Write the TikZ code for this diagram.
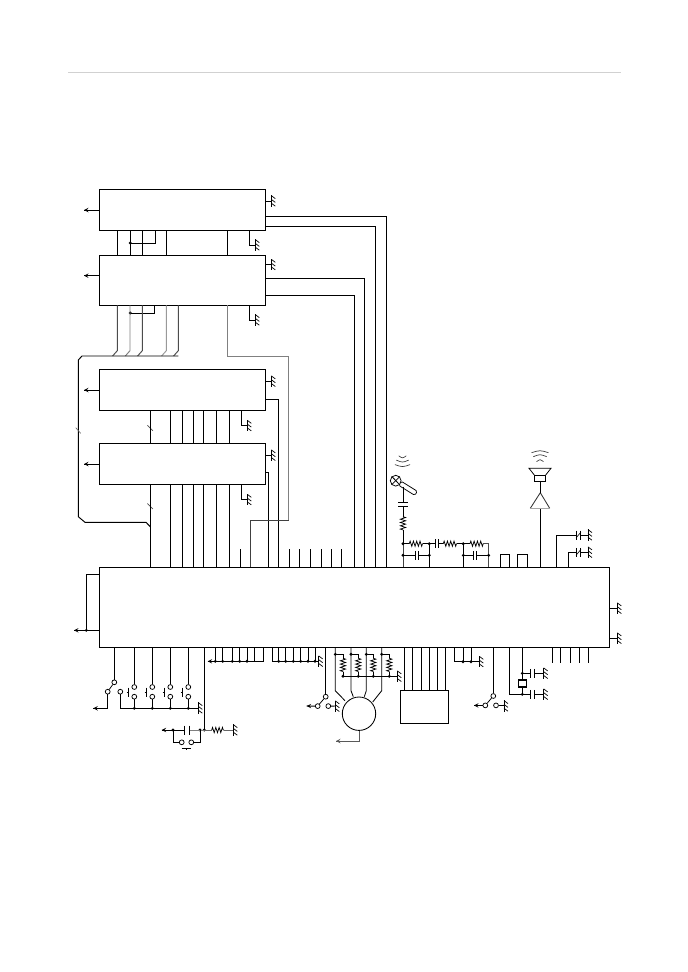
\documentclass[tikz,border=0pt]{standalone}
\usetikzlibrary{calc,decorations.pathmorphing,decorations.markings}
\tikzset{->/.style = {decoration={markings, mark=at position 1 with {\arrow[scale=1]{stealth}}}, postaction={decorate}}}
\tikzset{chip/.style = {draw, anchor=north west, inner sep=0pt, outer sep=0pt},
         contact/.style = {draw, circle, inner sep=0pt, minimum size=4.8pt, fill=white, line width=.75pt},
         rez/.style = {decorate, decoration={zigzag, segment length=3.3pt, amplitude=2.6pt}},
         wave/.style = {line width=.65pt, black!80},
         busgray/.style = {black!50, line width=1.3pt},
         thingray/.style = {black!75, line width=.85pt}}
\newcommand{\gnd}[2]{\draw (#1,#2-5.7) -- (#1,#2+5.7);
  \foreach \t in {-5.4,-1.6,2.2} \draw [line width=.7pt] (#1,#2+\t) -- ++(4,3);}
\newcommand{\jdot}[2]{\fill (#1,#2) circle (1.6);}
\newcommand{\swt}[5]{\node [contact] (#1-t) at (#2,#3) {};
  \node [contact] (#1-l) at (#4,#3+9.4) {};
  \node [contact] (#1-r) at (#5,#3+9.4) {};
  \draw [line width=.75pt] (#1-l) -- (#1-t);}
\newcommand{\capv}[2]{\draw (#1,#2-4.5) -- (#1,#2+4.5); \draw (#1+3.8,#2-4.5) -- (#1+3.8,#2+4.5);}
\begin{document}
\begin{tikzpicture}[x=1pt,y=-1pt,line width=.95pt]
\useasboundingbox (0,0) rectangle (688,972);
\draw [black!18, line width=1pt] (68,72.3) -- (621,72.3);

\node [chip, minimum width=166.4pt, minimum height=41pt] (icA) at (99.3,189.3) {};
\node [chip, minimum width=166.4pt, minimum height=50pt] (icB) at (99.3,255.3) {};
\node [chip, minimum width=166.4pt, minimum height=41pt] (icC) at (99.3,369.3) {};
\node [chip, minimum width=166.4pt, minimum height=41pt] (icD) at (99.3,443.3) {};
\node [chip, minimum width=510pt, minimum height=80pt] (mcu) at (99.3,567.3) {};
\node [chip, minimum width=48pt, minimum height=33pt] (icE) at (400.3,690.3) {};

\draw [->] (icA.west |- 0,210) -- (84,210);
\draw [->] (icB.west |- 0,275.7) -- (84,275.7);
\draw [->] (icC.west |- 0,390) -- (84,390);
\draw [->] (icD.west |- 0,464) -- (84,464);

% between the upper chips
\foreach \x in {117.3,130.3,142.3,166.3,227.3}
  \draw (icA.south -| \x,0) -- (icB.north -| \x,0);
\draw (icA.south -| 155.7,0) |- (130.3,243);
\jdot{130.3}{243}
\draw (icB.south -| 154.3,0) |- (130.3,313);
\jdot{130.3}{313}

% grounds
\foreach \y in {201,264.7,381.3,455.3} {
  \draw (265.7,\y) -- (271.3,\y);
  \gnd{271.3}{\y}
}
\draw (icA.south -| 249.7,0) |- (255.3,245);
\gnd{255.3}{245}
\draw (icB.south -| 249.7,0) |- (255.3,320);
\gnd{255.3}{320}
\draw (icC.south -| 241.7,0) |- (247.3,425.7);
\gnd{247.3}{425.7}
\draw (icD.south -| 241.7,0) |- (247.3,499.7);
\gnd{247.3}{499.7}

% long wires into the main chip
\draw (icA.east |- 0,216.3) -| (mcu.north -| 386.7,0);
\draw (icA.east |- 0,226.3) -| (mcu.north -| 375.3,0);
\draw (icB.east |- 0,278.3) -| (mcu.north -| 364.3,0);
\draw (icB.east |- 0,295.3) -| (mcu.north -| 354.7,0);
\draw (icC.east |- 0,399.3) -| (mcu.north -| 278.7,0);
\draw (icD.east |- 0,472.3) -| (mcu.north -| 268.3,0);

% bus on the left
\foreach \x/\c in {117.3/70,130/50,142.3/70,166.3/40,178.3/70}
  \draw [black!\c, line width=.95pt] (icB.south -| \x,0) -- (\x,350.7) -- (\x-4.7,356);
\draw (178.3,356) -- (82,356) -- (78.3,360) -- (78.3,516.7) -- (85,522.3) -- (146,522.3) -- (150.3,526.7);
\draw [black!60, line width=.6pt] (75.7,427.7) -- (80.7,433.3);
\foreach \y in {425.3,503.5}
  \draw [black!70, line width=.7pt] (147.3,\y) -- (152.9,\y+5.4);

% gray return
\draw [busgray] (icB.south -| 227.3,0) |- (288.7,356.7) -- (288.7,520.3) -- (250.3,520.3);
\draw [thingray] (288.7,520.3) -- (250.3,520.3) -- (mcu.north -| 250.3,0);

% chip C to D to main
\foreach \x in {150.3,170.3,182.3,193.7,203.7,216.3,229.3} {
  \draw (icC.south -| \x,0) -- (icD.north -| \x,0);
  \draw (icD.south -| \x,0) -- (mcu.north -| \x,0);
}
\foreach \x in {240.3,289.3,299.3,310.3,321.3,331.3,341.7}
  \draw (\x,549.3) -- (mcu.north -| \x,0);

% mic
\node [draw, rounded corners=1.5pt, minimum width=19pt, minimum height=4.8pt, inner sep=0pt, rotate=-32, line width=.75pt] (grip) at (408,488.3) {};
\node [draw, circle, minimum size=10.8pt, inner sep=0pt, fill=white, line width=.75pt] (mic) at (395.7,480.7) {};
\draw [line width=.6pt] (mic.north east) -- (mic.south west) (mic.north west) -- (mic.south east);
\draw [line width=.6pt] (393,477.5) -- (398.5,483.5);
\foreach \y/\w in {457/3.8,461.3/6.2,465.8/7.6}
  \draw [wave] (402.5-\w,\y-1.2) .. controls (402.5,\y+1.4) .. (402.5+\w,\y-1.2);
\coordinate (micout) at (403,486.7);
\draw (micout) -- (403,502.3);
\draw (398.3,502.3) -- (408.3,502.3) (398.3,506) -- (408.3,506);
\draw (403,506) -- (403,516.7);
\draw [rez, line width=.75pt] (403,516.7) -- (403,530);
\draw (403,530) -- (403,543.7);
\draw [thingray] (403,543.7) -- (mcu.north -| 403,0);
\jdot{403}{543.7}
\jdot{403}{555.3}
% filter
\draw (403,543.7) -- (409.3,543.7);
\draw [rez, line width=.75pt] (409.3,543.7) -- (422.7,543.7);
\draw (422.7,543.7) -- (435,543.7);
\capv{435}{543.5}
\draw (438.8,543.7) -- (443.3,543.7);
\draw [rez, line width=.75pt] (443.3,543.7) -- (456.7,543.7);
\draw (456.7,543.7) -- (470,543.7);
\draw [rez, line width=.75pt] (470,543.7) -- (483.3,543.7);
\draw [black!70] (483.3,543.7) -- (488.7,543.7) -- (mcu.north -| 488.7,0);
\draw (403,555.3) -- (415,555.3);
\capv{415}{555.3}
\draw (418.8,555.3) -- (429.3,555.3);
\draw (429.3,543.7) -- (mcu.north -| 429.3,0);
\jdot{429.3}{543.7}
\jdot{429.3}{555.3}
\draw (463.3,543.7) -- (mcu.north -| 463.3,0);
\jdot{463.3}{543.7}
\jdot{463.3}{555.3}
\draw (463.3,555.3) -- (473,555.3);
\capv{473}{555.3}
\draw (476.8,555.3) -- (488.7,555.3);
\jdot{488.7}{555.3}
% open loops on top
\draw (mcu.north -| 500.3,0) |- (509.7,554.3) -- (mcu.north -| 509.7,0);
\draw (mcu.north -| 517.3,0) |- (527.3,554.3) -- (mcu.north -| 527.3,0);

% speaker
\draw (mcu.north -| 540.3,0) -- (540.3,508.3);
\draw [black!80, line width=.85pt] (530.3,508.3) -- (540.3,492.7) -- (549.7,508.3);
\draw [black!35, line width=1.2pt] (530.3,508.3) -- (549.7,508.3);
\draw (540.3,492.7) -- (540.3,481.3);
\draw (534.3,475) rectangle (545.7,481.3);
\draw [line width=.75pt] (534.3,475) -- (529,468.3) -- (551,468.3) -- (545.7,475);
\foreach \y/\w in {451.5/8.5,455.5/6.7,460.5/3.5}
  \draw [wave] (540-\w,\y+1.2) .. controls (540,\y-1.4) .. (540+\w,\y+1.2);

% caps on the right of the top edge
\draw (mcu.north -| 556.3,0) |- (576.7,535);
\draw (mcu.north -| 568.3,0) |- (576.7,552.3);
\foreach \y in {535,552.3} {
  \capv{576.7}{\y}
  \draw [line width=.6pt] (576,\y+3) -- (581,\y-3);
  \draw (580.5,\y) -- (588,\y);
  \gnd{588}{\y}
}
\foreach \y in {608.3,638.3} {
  \draw (609.3,\y) -- (617.3,\y);
  \gnd{617.3}{\y}
}

% left of the main chip
\draw (mcu.west |- 0,574.3) -| (86.3,630.3);
\draw [->] (mcu.west |- 0,630.3) -- (74,630.3);
\jdot{86.3}{630.3}

% switch and keys
\swt{swA}{114.3}{682.3}{107.7}{120.3}
\draw (mcu.south -| 114.3,0) -- (swA-t);
\draw [->] (swA-l.south) |- (93.3,708.3);
\draw (swA-r.south) |- (198.3,708.3);
\gnd{198.3}{708}
\foreach \x [count=\i] in {134.3,152.3,170.3,188.3} {
  \node [contact] (pb\i-t) at (\x,687) {};
  \node [contact] (pb\i-b) at (\x,696.7) {};
  \draw (mcu.south -| \x,0) -- (pb\i-t);
  \draw (pb\i-b) -- (\x,708.3);
  \jdot{\x}{708.3}
  \draw [line width=.85pt] (\x-5.5,687.7) -- (\x-5.5,696.7) (\x-7.7,692) -- (\x-5.5,692);
}

% mute line
\draw (mcu.south -| 204.3,0) -- (204.3,730);
\jdot{204.3}{730}
\jdot{200}{730}
\jdot{173}{730}
\draw [black!50] (204.3,730) -- (189.3,730);
\draw [->] (184.3,730) -- (161.7,730);
\draw (184.3,725.7) -- (184.3,734.7) (189.3,725.7) -- (189.3,734.7);
\node [contact] (pbm-l) at (181.7,742.3) {};
\node [contact] (pbm-r) at (191.3,742.3) {};
\draw (173,730) |- (pbm-l);
\draw (200,730) |- (pbm-r);
\draw [line width=.85pt] (181.7,748) -- (191.3,748) (186.5,748) -- (186.5,750);
\draw [black!60, line width=.75pt] (204.3,730) -- (211.7,730);
\draw [rez, line width=.75pt] (211.7,730) -- (224,730);
\draw [black!60, line width=.75pt] (224,730) -- (233.3,730);
\gnd{233.3}{730}

% bottom groups
\foreach \x in {215.3,222.7,232.3,239.7,247} {
  \draw (mcu.south -| \x,0) -- (\x,661.3);
  \jdot{\x}{661.3}
}
\draw (mcu.south -| 254.7,0) -- (254.7,661.3);
\draw [->] (mcu.south -| 263.3,0) |- (207.7,661.3);
\foreach \x in {278.7,285.7,293.3,300.7,308,315} {
  \draw (mcu.south -| \x,0) -- (\x,661.3);
  \jdot{\x}{661.3}
}
\draw (mcu.south -| 272.3,0) |- (318.7,661.3);
\gnd{318.7}{661.3}

% motor switch
\swt{swB}{325.7}{696.7}{317.7}{328.3}
\draw (mcu.south -| 325.7,0) -- (swB-t);
\draw [->] (swB-l) -- (306.7,706);
\draw (swB-r) -- (335.3,706);
\gnd{335.3}{706.3}

% motor
\node [draw, circle, minimum size=33.4pt, inner sep=0pt, line width=.85pt] (motor) at (359,713.7) {};
\foreach \x/\ex/\ey in {335.3/345/700.7,351/353.3/696.7,366.3/364.3/696.7,381.7/372.7/702}
  \draw [line width=.85pt] (mcu.south -| \x,0) -- (\x,690.7) -- (\ex,\ey);
\foreach \x/\r in {335.3/343,351/358.3,366.3/373.3,381.7/389.3} {
  \jdot{\x}{654.3}
  \draw (\x,654.3) -- (\r,654.3) -- (\r,658.3);
  \draw [rez, line width=.75pt] (\r,658.3) -- (\r,671.7);
  \draw (\r,671.7) -- (\r,676.3);
  \jdot{\r}{676.3}
}
\draw (343,676.3) -- (397.3,676.3);
\gnd{397.3}{676.3}
\draw [black!65, ->] (motor.south) |- (336,741);

% chip E and its neighbours
\foreach \x in {404.3,412.3,421.3,429.3,437.3,445.3}
  \draw (mcu.south -| \x,0) -- (icE.north -| \x,0);
\foreach \x in {463,471} {
  \draw (mcu.south -| \x,0) -- (\x,661.7);
  \jdot{\x}{661.7}
}
\draw (mcu.south -| 454.3,0) |- (479.3,661.7);
\gnd{479.3}{661.7}
\swt{swC}{493.3}{696}{485.3}{496}
\draw (mcu.south -| 493.3,0) -- (swC-t);
\draw [->] (swC-l) -- (474,705.4);
\draw (swC-r) -- (504,705.4);
\gnd{504}{706}

% crystal
\node [draw, inner sep=0pt, minimum width=7.6pt, minimum height=6.3pt] (xtal) at (522.3,683.2) {};
\draw (518,679) -- (526.7,679) (518,687.3) -- (526.7,687.3);
\draw (mcu.south -| 522.3,0) -- (522.3,679);
\draw (522.3,687.3) -- (522.3,694.3);
\jdot{522.3}{673.3}
\jdot{522.3}{694.3}
\draw (522.3,673.3) -- (530.3,673.3);
\draw (mcu.south -| 509.3,0) |- (530.3,694.3);
\foreach \y in {673.3,694.3} {
  \capv{530.3}{\y}
  \draw (534.1,\y) -- (543.7,\y);
  \gnd{543.7}{\y}
}
\foreach \x in {552.3,560.3,570.3,579.3,588.7}
  \draw (mcu.south -| \x,0) -- (\x,663);
\end{tikzpicture}
\end{document}
